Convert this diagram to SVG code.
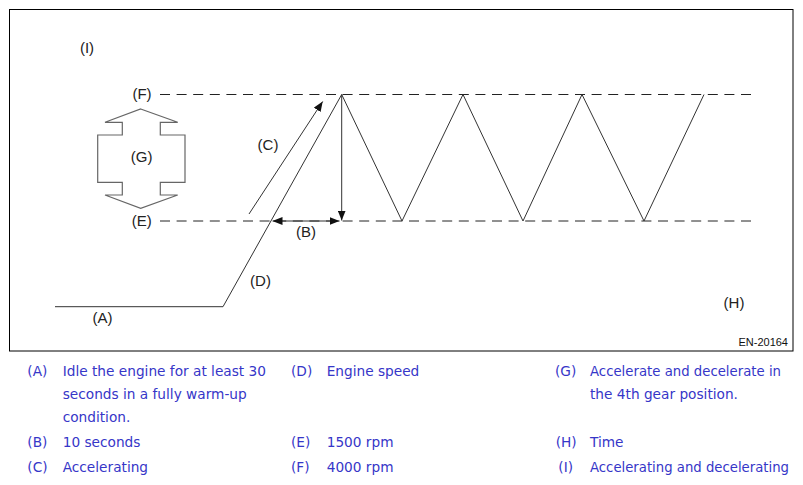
<svg xmlns="http://www.w3.org/2000/svg" width="803" height="485" viewBox="0 0 803 485">
<style>
.lbl{font-family:"Liberation Sans",Arial,sans-serif;font-size:15px;fill:#222;text-anchor:middle}
.leg{font-family:"DejaVu Sans",Verdana,sans-serif;font-size:13.7px;fill:#3636c8}
.ln{fill:none;stroke:#333;stroke-width:1}
.dash{fill:none;stroke:#222;stroke-width:1;stroke-dasharray:10 6.6}
</style>
<defs>
<marker id="ah" viewBox="0 0 10 8" refX="10" refY="4" markerWidth="10" markerHeight="8" markerUnits="userSpaceOnUse" orient="auto-start-reverse">
<path d="M0,0 L10,4 L0,8 Z" fill="#111"/>
</marker>
</defs>
<rect x="9.5" y="9.5" width="783.5" height="341.5" fill="#fff" stroke="#000" stroke-width="1"/>
<g id="connectors">
<line class="dash" x1="160" y1="94.5" x2="757" y2="94.5"/>
<line class="dash" x1="160" y1="221" x2="757" y2="221"/>
<polyline class="ln" points="55,306.7 223,306.7 341.7,94.5 402,221 463,94.5 523,221 582,94.5 644,221 704,94.5"/>
<line class="ln" x1="341.7" y1="94.5" x2="341.7" y2="220.5" marker-end="url(#ah)"/>
<line class="ln" x1="272.5" y1="221" x2="339.5" y2="221" marker-start="url(#ah)" marker-end="url(#ah)"/>
<line class="ln" x1="249" y1="214" x2="322.7" y2="101.5" marker-end="url(#ah)"/>
</g>
<g id="node-G">
<path d="M140.7,109 L177.7,122.3 L160.3,122.3 L160.3,135 L185,135 L185,182.3 L160.3,182.3 L160.3,195 L177.7,195 L140.7,208.3 L105,195 L122.3,195 L122.3,182.3 L97.7,182.3 L97.7,135 L122.3,135 L122.3,122.3 L105,122.3 Z" fill="none" stroke="#666" stroke-width="1.2"/>
<text class="lbl" x="141.7" y="162">(G)</text>
</g>
<g id="labels">
<text class="lbl" x="87" y="52.5">(I)</text>
<text class="lbl" x="142" y="99">(F)</text>
<text class="lbl" x="141.7" y="226">(E)</text>
<text class="lbl" x="268" y="150">(C)</text>
<text class="lbl" x="306" y="237">(B)</text>
<text class="lbl" x="260.5" y="286">(D)</text>
<text class="lbl" x="102.5" y="323">(A)</text>
<text class="lbl" x="734" y="308">(H)</text>
<text x="788" y="345.5" font-family="Liberation Sans,Arial,sans-serif" font-size="11" fill="#111" text-anchor="end">EN-20164</text>
</g>
<g id="legend" class="leg">
<text class="leg" x="27.3" y="376">(A)</text>
<text class="leg" x="62.7" y="376">Idle the engine for at least 30</text>
<text class="leg" x="62.7" y="399">seconds in a fully warm-up</text>
<text class="leg" x="62.7" y="421.5">condition.</text>
<text class="leg" x="27.3" y="447">(B)</text>
<text class="leg" x="62.7" y="447">10 seconds</text>
<text class="leg" x="27.3" y="472">(C)</text>
<text class="leg" x="62.7" y="472">Accelerating</text>
<text class="leg" x="291" y="376">(D)</text>
<text class="leg" x="326.7" y="376">Engine speed</text>
<text class="leg" x="291" y="447">(E)</text>
<text class="leg" x="326.7" y="447">1500 rpm</text>
<text class="leg" x="291" y="472">(F)</text>
<text class="leg" x="326.7" y="472">4000 rpm</text>
<text class="leg" x="555" y="376">(G)</text>
<text class="leg" x="590" y="376" textLength="191" lengthAdjust="spacingAndGlyphs">Accelerate and decelerate in</text>
<text class="leg" x="590" y="399">the 4th gear position.</text>
<text class="leg" x="555.7" y="447">(H)</text>
<text class="leg" x="590" y="447">Time</text>
<text class="leg" x="558.3" y="472">(I)</text>
<text class="leg" x="590" y="472" textLength="199" lengthAdjust="spacingAndGlyphs">Accelerating and decelerating</text>
</g>
</svg>
